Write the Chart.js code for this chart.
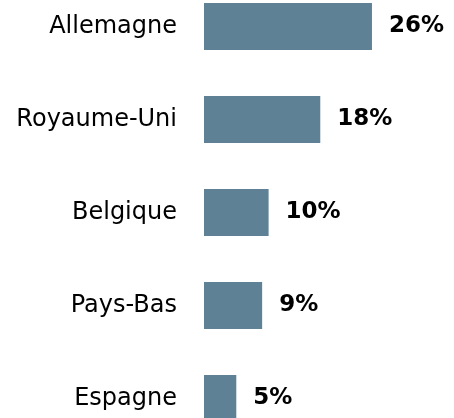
<!DOCTYPE html>
<html>
<head>
<meta charset="utf-8">
<script src="https://cdn.jsdelivr.net/npm/chart.js@4.4.0/dist/chart.umd.min.js"></script>
<style>
  html, body { margin: 0; padding: 0; background: #fff; overflow: hidden; }
  #my-chart { position: absolute; left: 0; top: -20px; }
</style>
</head>
<body>
<canvas id="my-chart" width="454" height="465"></canvas>
<script>
const countries = ['Allemagne', 'Royaume-Uni', 'Belgique', 'Pays-Bas', 'Espagne'];
const shares = [26, 18, 10, 9, 5];
const xMax = 38.7;

// draws the "26%" style labels at the end of each bar
const valueLabels = {
  id: 'valueLabels',
  afterDatasetsDraw(chart) {
    const ctx = chart.ctx;
    const meta = chart.getDatasetMeta(0);
    ctx.save();
    ctx.font = 'bold 23px "DejaVu Sans"';
    ctx.fillStyle = '#000';
    ctx.textBaseline = 'middle';
    ctx.textAlign = 'left';
    meta.data.forEach((bar, i) => {
      ctx.fillText(shares[i] + '%', bar.x + 17, bar.y);
    });
    ctx.restore();
  }
};

const ctx = document.getElementById('my-chart').getContext('2d');
const chart = new Chart(ctx, {
  type: 'bar',
  data: {
    labels: countries,
    datasets: [
      {
        data: shares,
        backgroundColor: '#5f8196',
        borderWidth: 0,
        categoryPercentage: 1,
        barPercentage: 0.505
      }
    ]
  },
  options: {
    indexAxis: 'y',
    responsive: false,
    animation: false,
    layout: { padding: 0 },
    plugins: {
      legend: { display: false },
      tooltip: { enabled: false }
    },
    scales: {
      x: {
        display: false,
        min: 0,
        max: xMax
      },
      y: {
        grid: { display: false, drawTicks: false },
        border: { display: false },
        ticks: {
          color: '#000',
          padding: 27,
          font: { family: '"DejaVu Sans"', size: 24 }
        },
        afterFit: s => {
          s.width = 204;
          s.paddingTop = 0;
          s.paddingBottom = 0;
        }
      }
    }
  },
  plugins: [valueLabels]
}); // closes chart
</script>
</body>
</html>
